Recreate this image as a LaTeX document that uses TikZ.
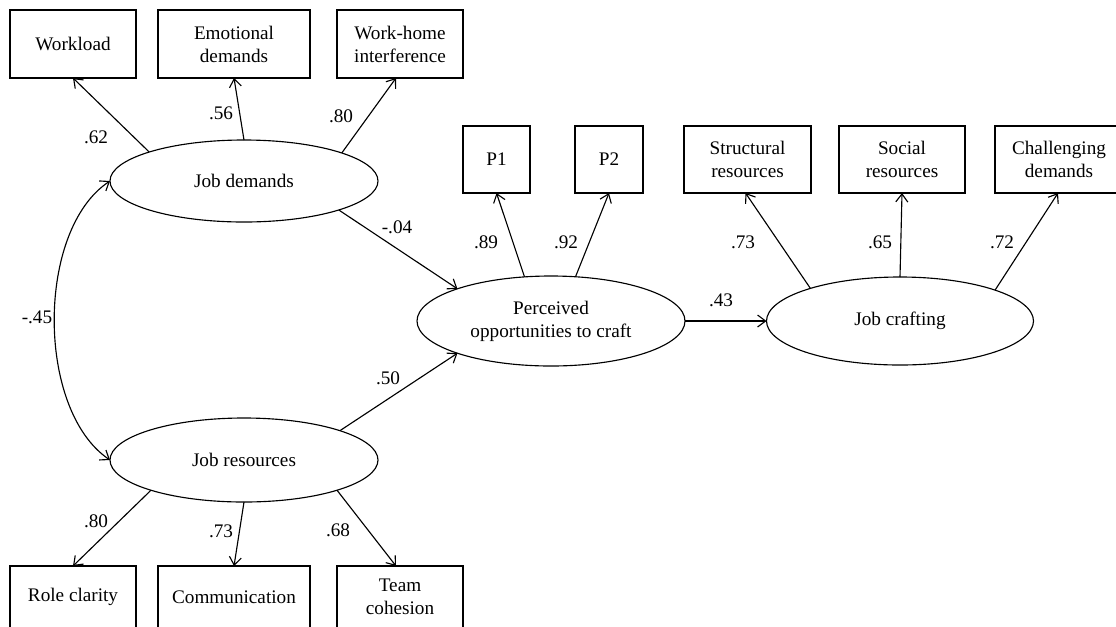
\documentclass[tikz,border=0pt]{standalone}
\usepackage{fontspec}
\setmainfont{Liberation Serif}
\usetikzlibrary{arrows.meta,shapes.geometric}
\newdimen\pxu \pxu=0.75pt
\begin{document}
\begin{tikzpicture}[x=0.75pt,y=-0.75pt,
  every node/.style={font=\fontsize{14.4}{17.3}\selectfont, inner sep=0pt, outer sep=0pt, align=center},
  obs/.style={draw, rectangle, line width=0.85pt},
  lat/.style={draw, ellipse, line width=0.85pt},
  path/.style={line width=0.85pt, -{Straight Barb[length=6pt,width=9pt]}},
  dpath/.style={line width=0.85pt, {Straight Barb[length=6pt,width=9pt]}-{Straight Barb[length=6pt,width=9pt]}},
  coef/.style={}
]
\useasboundingbox (0,0) rectangle (1116,626);
\clip (0,0) rectangle (1116,626);
\fill[white] (0,0) rectangle (1116,626);

% latent variables
\node[lat, minimum width=268\pxu, minimum height=82\pxu] (jd) at (244,181) {Job demands};
\node[lat, minimum width=268\pxu, minimum height=84\pxu] (jr) at (244,460) {Job resources};
\node[lat, minimum width=268\pxu, minimum height=90\pxu] (po) at (551,321) {Perceived\\opportunities to craft};
\node[lat, minimum width=267\pxu, minimum height=88\pxu] (jc) at (900,321) {Job crafting};

% observed: job demands
\node[obs, minimum width=126\pxu, minimum height=68\pxu] (wl) at (73,44) {Workload};
\node[obs, minimum width=152\pxu, minimum height=68\pxu] (ed) at (234,44) {Emotional\\demands};
\node[obs, minimum width=126\pxu, minimum height=68\pxu] (wh) at (400,44) {Work-home\\interference};

% observed: job resources
\node[obs, minimum width=126\pxu, minimum height=62\pxu] (rc) at (73,597) {Role clarity};
\node[obs, minimum width=152\pxu, minimum height=62\pxu] (cm) at (234,597) {Communication};
\node[obs, minimum width=126\pxu, minimum height=62\pxu] (tc) at (400,597) {Team\\cohesion};

% observed: perceived opportunities
\node[obs, minimum width=67\pxu, minimum height=67\pxu] (p1) at (496.5,159.5) {P1};
\node[obs, minimum width=68\pxu, minimum height=67\pxu] (p2) at (609,159.5) {P2};

% observed: job crafting
\node[obs, minimum width=127\pxu, minimum height=67\pxu] (sr) at (747.5,159.5) {Structural\\resources};
\node[obs, minimum width=126\pxu, minimum height=67\pxu] (so) at (902,159.5) {Social\\resources};
\node[obs, minimum width=128\pxu, minimum height=67\pxu] (cd) at (1059,159.5) {Challenging\\demands};

% loadings
\draw[path] (jd.163) -- (wl.south);
\draw[path] (jd.north) -- (ed.south);
\draw[path] (jd.16.4) -- ([xshift=-4\pxu]wh.south);
\draw[path] (jr.198.4) -- (rc.north);
\draw[path] (jr.south) -- (cm.north);
\draw[path] (jr.-18.6) -- ([xshift=-4\pxu]tc.north);
\draw[path] (po.121.9) -- (p1.south);
\draw[path] (po.61.9) -- (p2.south);
\draw[path] (jc.160.8) -- ([xshift=-2\pxu]sr.south);
\draw[path] (jc.north) -- (so.south);
\draw[path] (jc.18.1) -- ([xshift=-1\pxu]cd.south);

% structural paths
\draw[path] (jd.-17.7) -- (po.161.2);
\draw[path] (jr.17) -- (po.199.3);
\draw[path] (po.east) -- (jc.west);
\draw[dpath] (jd.west) .. controls (36,230) and (36,410) .. (jr.west);

% coefficients
\node[coef] (c1) at (96,137) {.62};
\node[coef] (c2) at (221,113) {.56};
\node[coef] (c3) at (341,116) {.80};
\node[coef] (c4) at (397,227) {-.04};
\node[coef] (c5) at (388,378) {.50};
\node[coef] (c6) at (37,317) {-.45};
\node[coef] (c7) at (96,521) {.80};
\node[coef] (c8) at (221,531) {.73};
\node[coef] (c9) at (338,530) {.68};
\node[coef] (c10) at (486,242) {.89};
\node[coef] (c11) at (566,242) {.92};
\node[coef] (c12) at (721,300) {.43};
\node[coef] (c13) at (743,242) {.73};
\node[coef] (c14) at (880,242) {.65};
\node[coef] (c15) at (1002,242) {.72};
\end{tikzpicture}
\end{document}
